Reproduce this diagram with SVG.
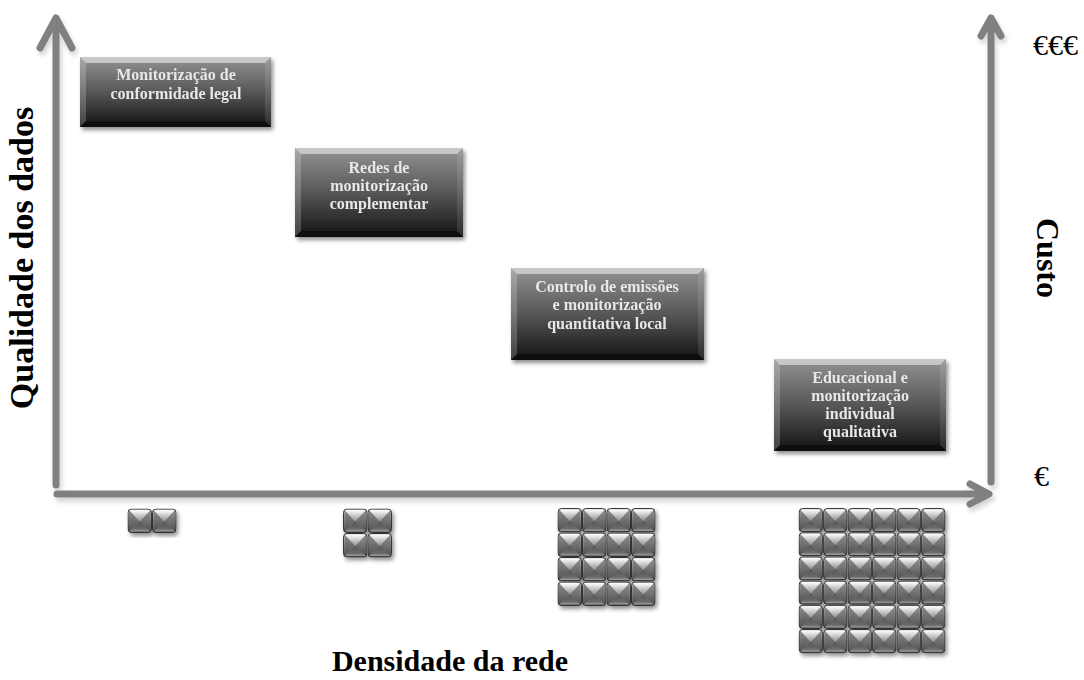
<svg xmlns="http://www.w3.org/2000/svg" xmlns:xlink="http://www.w3.org/1999/xlink" width="1084" height="680" viewBox="0 0 1084 680">
  <style>
    .axis { fill: none; stroke: #808080; stroke-width: 7; stroke-linecap: round; stroke-linejoin: round; }
    .ttl { font-family: "Liberation Serif", "Times New Roman", serif; font-weight: bold; fill: #000; }
    .euro { font-family: "Liberation Serif", "Times New Roman", serif; fill: #000; font-size: 30px; }
    .lbl { font-family: "Liberation Serif", "Times New Roman", serif; font-weight: bold; font-size: 16px; fill: #e8e8e8; text-anchor: middle; }
    .bevT { fill: #ffffff; opacity: 0.5; }
    .bevL { fill: #ffffff; opacity: 0.2; }
    .bevR { fill: #ffffff; opacity: 0.1; }
    .bevB { fill: #000000; opacity: 0.35; }
  </style>
  <defs>
    <linearGradient id="boxFill" x1="0" y1="0" x2="0" y2="1">
      <stop offset="0" stop-color="#939393"/>
      <stop offset="0.5" stop-color="#575757"/>
      <stop offset="1" stop-color="#121212"/>
    </linearGradient>
    <linearGradient id="tBase" x1="0" y1="0" x2="0" y2="1">
      <stop offset="0" stop-color="#d0d0d0"/>
      <stop offset="1" stop-color="#4a4a4a"/>
    </linearGradient>
    <linearGradient id="tTop" x1="0" y1="0" x2="0" y2="1">
      <stop offset="0" stop-color="#ffffff"/>
      <stop offset="1" stop-color="#8e8e8e"/>
    </linearGradient>
    <linearGradient id="tSide" x1="0" y1="0" x2="0" y2="1">
      <stop offset="0" stop-color="#8a8a8a"/>
      <stop offset="1" stop-color="#525252"/>
    </linearGradient>
    <linearGradient id="tBot" x1="0" y1="0" x2="0" y2="1">
      <stop offset="0" stop-color="#555555"/>
      <stop offset="0.75" stop-color="#6a6a6a"/>
      <stop offset="1" stop-color="#a0a0a0"/>
    </linearGradient>
    <filter id="shadow" x="-10%" y="-10%" width="130%" height="130%">
      <feGaussianBlur in="SourceAlpha" stdDeviation="2"/>
      <feOffset dx="2" dy="3" result="b"/>
      <feComponentTransfer><feFuncA type="linear" slope="0.45"/></feComponentTransfer>
      <feMerge><feMergeNode/><feMergeNode in="SourceGraphic"/></feMerge>
    </filter>
    <filter id="axisShadow" x="-5%" y="-5%" width="110%" height="110%">
      <feGaussianBlur in="SourceAlpha" stdDeviation="2.5"/>
      <feOffset dx="2" dy="4"/>
      <feComponentTransfer><feFuncA type="linear" slope="0.18"/></feComponentTransfer>
      <feMerge><feMergeNode/><feMergeNode in="SourceGraphic"/></feMerge>
    </filter>
    <!-- one bevelled square of the density grid -->
    <symbol id="tile" viewBox="0 0 24 24">
      <rect x="0.5" y="0.5" width="23" height="23" rx="3.5" fill="url(#tBase)"/>
      <polygon points="1.5,1.5 12,12.5 1.5,22.5" fill="url(#tSide)"/>
      <polygon points="22.5,1.5 12,12.5 22.5,22.5" fill="url(#tSide)" opacity="0.9"/>
      <polygon points="1.5,22.5 12,12.5 22.5,22.5" fill="url(#tBot)"/>
      <polygon points="1.5,1.5 22.5,1.5 12,12.8" fill="url(#tTop)"/>
      <rect x="0.5" y="0.5" width="23" height="23" rx="3.5" fill="none" stroke="#2a2a2a" stroke-width="0.9"/>
    </symbol>
  </defs>

  <rect width="1084" height="680" fill="#ffffff"/>

  <!-- axes -->
  <g id="connectors" filter="url(#axisShadow)">
    <path class="axis" d="M56,485 V18 M40,48 L56,18 L72,48"/>
    <path class="axis" d="M57,494 H988 M970,484 L989,494 L970,504"/>
    <path class="axis" d="M991,482 V18 M981,36 L991,18 L1001,36"/>
  </g>

  <!-- axis titles and cost marks -->
  <g id="axis-labels">
    <text class="ttl" font-size="34" text-anchor="middle" transform="translate(33,258) rotate(-90)">Qualidade dos dados</text>
    <text class="ttl" font-size="32" text-anchor="middle" transform="translate(1037,258) rotate(90)">Custo</text>
    <text class="ttl" font-size="30" text-anchor="middle" x="450" y="671">Densidade da rede</text>
    <text class="euro" x="1033" y="55">€€€</text>
    <text class="euro" x="1034" y="486">€</text>
  </g>

  <g id="box1" filter="url(#shadow)">
    <rect x="80" y="57" width="191" height="70" fill="url(#boxFill)"/>
    <polygon class="bevT" points="80,57 271,57 265,63 86,63"/>
    <polygon class="bevL" points="80,57 86,63 86,121 80,127"/>
    <polygon class="bevR" points="271,57 265,63 265,121 271,127"/>
    <polygon class="bevB" points="80,127 86,121 265,121 271,127"/>
    <text class="lbl" x="176" y="80">Monitorização de</text>
    <text class="lbl" x="176" y="99">conformidade legal</text>
  </g>

  <g id="box2" filter="url(#shadow)">
    <rect x="295" y="148" width="168" height="89" fill="url(#boxFill)"/>
    <polygon class="bevT" points="295,148 463,148 457,154 301,154"/>
    <polygon class="bevL" points="295,148 301,154 301,231 295,237"/>
    <polygon class="bevR" points="463,148 457,154 457,231 463,237"/>
    <polygon class="bevB" points="295,237 301,231 457,231 463,237"/>
    <text class="lbl" x="379" y="173">Redes de</text>
    <text class="lbl" x="379" y="191">monitorização</text>
    <text class="lbl" x="379" y="209">complementar</text>
  </g>

  <g id="box3" filter="url(#shadow)">
    <rect x="511" y="268" width="193" height="92" fill="url(#boxFill)"/>
    <polygon class="bevT" points="511,268 704,268 698,274 517,274"/>
    <polygon class="bevL" points="511,268 517,274 517,354 511,360"/>
    <polygon class="bevR" points="704,268 698,274 698,354 704,360"/>
    <polygon class="bevB" points="511,360 517,354 698,354 704,360"/>
    <text class="lbl" x="607" y="292">Controlo de emissões</text>
    <text class="lbl" x="607" y="310">e monitorização</text>
    <text class="lbl" x="607" y="329">quantitativa local</text>
  </g>

  <g id="box4" filter="url(#shadow)">
    <rect x="774" y="359" width="172" height="92" fill="url(#boxFill)"/>
    <polygon class="bevT" points="774,359 946,359 940,365 780,365"/>
    <polygon class="bevL" points="774,359 780,365 780,445 774,451"/>
    <polygon class="bevR" points="946,359 940,365 940,445 946,451"/>
    <polygon class="bevB" points="774,451 780,445 940,445 946,451"/>
    <text class="lbl" x="860" y="383">Educacional e</text>
    <text class="lbl" x="860" y="401">monitorização</text>
    <text class="lbl" x="860" y="419">individual</text>
    <text class="lbl" x="860" y="437">qualitativa</text>
  </g>

  <!-- density grids: 1x2, 2x2, 4x4, 6x6 -->
  <g id="grid1" filter="url(#shadow)">
    <use xlink:href="#tile" x="127.5" y="508.5" width="24.5" height="24.5"/>
    <use xlink:href="#tile" x="152" y="508.5" width="24.5" height="24.5"/>
  </g>

  <g id="grid2" filter="url(#shadow)">
    <use xlink:href="#tile" x="343" y="508.5" width="24.5" height="24.5"/>
    <use xlink:href="#tile" x="367.5" y="508.5" width="24.5" height="24.5"/>
    <use xlink:href="#tile" x="343" y="533" width="24.5" height="24.5"/>
    <use xlink:href="#tile" x="367.5" y="533" width="24.5" height="24.5"/>
  </g>

  <g id="grid3" filter="url(#shadow)">
    <g id="g3row">
      <use xlink:href="#tile" x="557.5" y="508" width="24.5" height="24.5"/>
      <use xlink:href="#tile" x="582" y="508" width="24.5" height="24.5"/>
      <use xlink:href="#tile" x="606.5" y="508" width="24.5" height="24.5"/>
      <use xlink:href="#tile" x="631" y="508" width="24.5" height="24.5"/>
    </g>
    <use xlink:href="#g3row" y="24.5"/>
    <use xlink:href="#g3row" y="49"/>
    <use xlink:href="#g3row" y="73.5"/>
  </g>

  <g id="grid4" filter="url(#shadow)">
    <g id="g4row">
      <use xlink:href="#tile" x="798.5" y="508" width="24.5" height="24.2"/>
      <use xlink:href="#tile" x="823" y="508" width="24.5" height="24.2"/>
      <use xlink:href="#tile" x="847.5" y="508" width="24.5" height="24.2"/>
      <use xlink:href="#tile" x="872" y="508" width="24.5" height="24.2"/>
      <use xlink:href="#tile" x="896.5" y="508" width="24.5" height="24.2"/>
      <use xlink:href="#tile" x="921" y="508" width="24.5" height="24.2"/>
    </g>
    <use xlink:href="#g4row" y="24.2"/>
    <use xlink:href="#g4row" y="48.4"/>
    <use xlink:href="#g4row" y="72.6"/>
    <use xlink:href="#g4row" y="96.8"/>
    <use xlink:href="#g4row" y="121"/>
  </g>
</svg>
